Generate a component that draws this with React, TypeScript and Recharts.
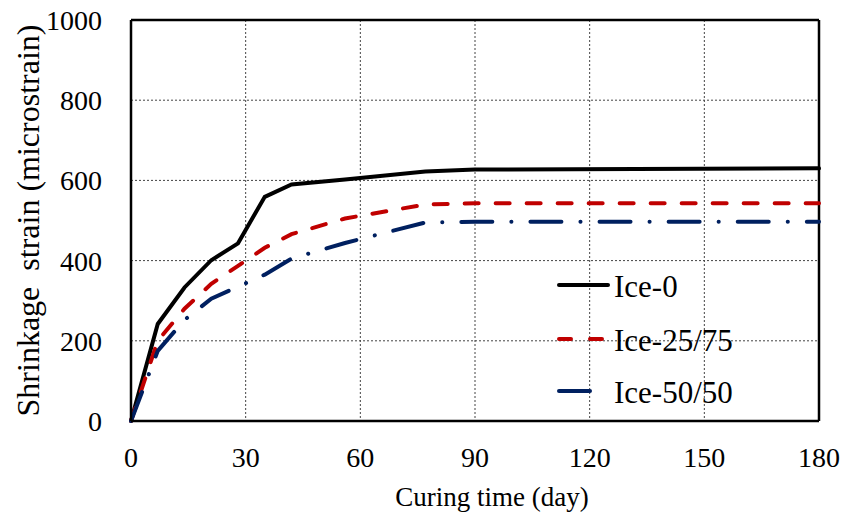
import { LineChart, Line, XAxis, YAxis, CartesianGrid, ReferenceLine } from "recharts";

// curing time (days) and measured shrinkage (microstrain)
const days = [0, 7, 14, 21, 28, 35, 42, 56, 77, 90, 180];
const ice0 = [0, 242, 333, 401, 443, 559, 590, 602, 622, 627, 630];
const ice25 = [0, 200, 280, 342, 387, 432, 466, 505, 540, 543, 543];
const ice50 = [0, 175, 252, 305, 335, 365, 405, 444, 495, 497, 497];

const xTicks = [0, 30, 60, 90, 120, 150, 180];
const yTicks = [0, 200, 400, 600, 800, 1000];

const FONT = "Liberation Serif, DejaVu Serif, serif";

const series = [
  { key: "ice0", name: "Ice-0", color: "#000000", dash: undefined, legendDash: undefined, legendLen: 49 },
  { key: "ice25", name: "Ice-25/75", color: "#C00000", dash: "14 17", legendDash: "12 19", legendLen: 44 },
  { key: "ice50", name: "Ice-50/50", color: "#002060", dash: "31 19 0.1 19", legendDash: undefined, legendLen: 31 },
];

const data = days.map((d, i) => ({ day: d, ice0: ice0[i], ice25: ice25[i], ice50: ice50[i] }));

function YTitle(props: any) {
  const vb = props.viewBox || { y: 20, height: 401 };
  const cx = 28;
  const cy = vb.y + vb.height / 2;
  return (
    <text
      x={cx}
      y={cy}
      transform={`rotate(-90 ${cx} ${cy})`}
      textAnchor="middle"
      dominantBaseline="central"
      style={{ fontFamily: FONT, fontSize: 32, whiteSpace: "pre" }}
      fill="#000"
    >
      {"Shrinkage\u00A0 strain (microstrain)"}
    </text>
  );
}

function ChartLegend() {
  const rows = [285, 339, 391];
  return (
    <svg width={260} height={160} style={{ position: "absolute", left: 550, top: 255 }}>
      {series.map((s, i) => {
        const y = rows[i] - 255;
        return (
          <g key={s.key}>
            <line
              x1={9}
              x2={9 + s.legendLen}
              y1={y}
              y2={y}
              stroke={s.color}
              strokeWidth={4}
              strokeLinecap="round"
              strokeDasharray={s.legendDash}
            />
            <text x={64} y={y + 12} style={{ fontFamily: FONT, fontSize: 31 }} fill="#000">
              {s.name}
            </text>
          </g>
        );
      })}
    </svg>
  );
}

export default function App() {
  return (
    <div style={{ position: "absolute", left: 0, top: 0, width: 845, height: 522, background: "#fff", fontFamily: FONT }}>
      <LineChart
        width={845}
        height={522}
        data={data}
        margin={{ top: 20, right: 26, left: 31, bottom: 41 }}
        style={{ fontFamily: FONT }}
      >
        <CartesianGrid stroke="#444" strokeWidth={1} strokeDasharray="2 2" />
        <XAxis
          dataKey="day"
          type="number"
          domain={[0, 180]}
          ticks={xTicks}
          height={60}
          tickLine={false}
          tickSize={0}
          tickMargin={26}
          axisLine={{ stroke: "#000", strokeWidth: 2.5 }}
          tick={{ fill: "#000", fontSize: 28, fontFamily: FONT }}
          label={{
            value: "Curing time (day)",
            position: "bottom",
            offset: 6,
            dx: 17,
            fill: "#000",
            fontSize: 27,
            fontFamily: FONT,
          }}
        />
        <YAxis
          type="number"
          domain={[0, 1000]}
          ticks={yTicks}
          width={100}
          tickLine={false}
          tickSize={0}
          tickMargin={29}
          axisLine={{ stroke: "#000", strokeWidth: 2.5 }}
          tick={{ fill: "#000", fontSize: 28, fontFamily: FONT }}
          label={{ content: <YTitle /> } as any}
        />
        <ReferenceLine y={1000} stroke="#000" strokeWidth={2.5} />
        <ReferenceLine x={180} stroke="#000" strokeWidth={2.5} />
        {series.map((s) => (
          <Line
            key={s.key}
            dataKey={s.key}
            name={s.name}
            type="linear"
            stroke={s.color}
            strokeWidth={4}
            strokeDasharray={s.dash}
            strokeLinecap="round"
            dot={false}
            activeDot={false}
            isAnimationActive={false}
          />
        ))}
      </LineChart>
      <ChartLegend />
    </div>
  );
}
